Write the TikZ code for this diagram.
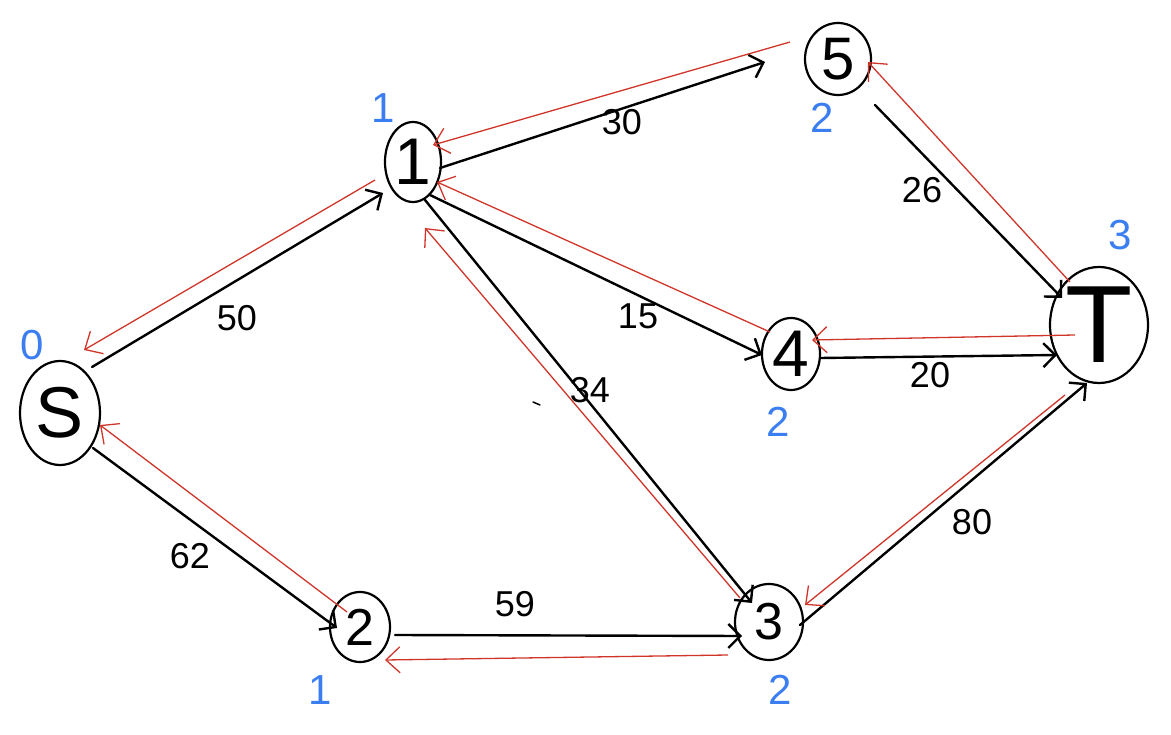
\documentclass[tikz,border=0pt]{standalone}
\usepackage{fontspec}
\setmainfont{Liberation Sans}
\usetikzlibrary{arrows.meta,shapes.geometric}
\definecolor{redc}{HTML}{D0352A}
\definecolor{bluec}{HTML}{3A7EF2}
\begin{document}
\begin{tikzpicture}[x=1pt,y=-1pt,
 vtx/.style={draw,ellipse,line width=2.2pt,inner sep=0pt},
 blk/.style={line width=2.4pt,line cap=round,-{Straight Barb[length=12pt,width=24pt]}},
 rd/.style={draw=redc,line width=1.3pt,-{Straight Barb[length=14pt,width=26pt]}},
 wlab/.style={font=\fontsize{36}{36}\selectfont},
 lvl/.style={text=bluec,font=\fontsize{42}{42}\selectfont}]
\useasboundingbox (0,0) rectangle (1171,735);
% vertices
\node[vtx,minimum width=80pt,minimum height=104pt,label={[font=\fontsize{72}{72}\selectfont]center:S}] (S) at (60,413) {};
\node[vtx,minimum width=56pt,minimum height=80pt,label={[font=\fontsize{66}{66}\selectfont]center:1}] (N1) at (413,162) {};
\node[vtx,minimum width=66pt,minimum height=72pt,label={[font=\fontsize{60}{60}\selectfont]center:5}] (N5) at (838,59) {};
\node[vtx,minimum width=58pt,minimum height=72pt,label={[font=\fontsize{66}{66}\selectfont]center:4}] (N4) at (791,354) {};
\node[vtx,minimum width=98pt,minimum height=116pt,label={[font=\fontsize{110}{110}\selectfont]center:T}] (T) at (1099,325) {};
\node[vtx,minimum width=60pt,minimum height=70pt,label={[font=\fontsize{52}{52}\selectfont]center:2}] (N2) at (360,627) {};
\node[vtx,minimum width=68pt,minimum height=76pt,label={[font=\fontsize{52}{52}\selectfont]center:3}] (N3) at (769,622) {};
% blue levels
\node[lvl] (l0) at (32,345) {0};
\node[lvl] (l1) at (383,108) {1};
\node[lvl] (l5) at (822,118) {2};
\node[lvl] (lT) at (1120,235) {3};
\node[lvl] (l4) at (778,422) {2};
\node[lvl] (l2) at (320,690) {1};
\node[lvl] (l3) at (780,690) {2};
% black edges
\draw[blk] ([shift={(32,-46)}]S.center) -- ([shift={(-30,31)}]N1.center);
\draw[blk] ([shift={(33,35)}]S.center) -- ([shift={(-23,1)}]N2.center);
\draw[blk] ([shift={(27,6)}]N1.center) -- ([shift={(-73,3)}]N5.center);
\draw[blk] ([shift={(37,46)}]N5.center) -- ([shift={(-37,-27)}]T.center);
\draw[blk] ([shift={(17,33)}]N1.center) -- ([shift={(-29,1)}]N4.center);
\draw[blk] ([shift={(12,38)}]N1.center) -- ([shift={(-17,-19)}]N3.center);
\draw[blk] ([shift={(29,4)}]N4.center) -- ([shift={(-42,30)}]T.center);
\draw[blk] ([shift={(35,8)}]N2.center) -- ([shift={(-27,14)}]N3.center);
\draw[blk] ([shift={(31,3)}]N3.center) -- ([shift={(-12,58)}]T.center);
% red residual edges
\draw[rd] ([shift={(-38,18)}]N1.center) -- ([shift={(24,-63)}]S.center);
\draw[rd] ([shift={(-13,-15)}]N2.center) -- ([shift={(40,12)}]S.center);
\draw[rd] ([shift={(-48,-17)}]N5.center) -- ([shift={(20,-17)}]N1.center);
\draw[rd] ([shift={(-29,-43)}]T.center) -- ([shift={(30,3)}]N5.center);
\draw[rd] ([shift={(-21,-22)}]N4.center) -- ([shift={(24,20)}]N1.center);
\draw[rd] ([shift={(-29,-24)}]N3.center) -- ([shift={(12,66)}]N1.center);
\draw[rd] ([shift={(-24,10)}]T.center) -- ([shift={(21,-14)}]N4.center);
\draw[rd] ([shift={(-41,33)}]N3.center) -- ([shift={(25,33)}]N2.center);
\draw[rd] ([shift={(-34,70)}]T.center) -- ([shift={(36,-17)}]N3.center);
% weights
\node[wlab] (w50) at (237,318) {50};
\node[wlab] (w62) at (190,556) {62};
\node[wlab] (w30) at (622,122) {30};
\node[wlab] (w26) at (922,190) {26};
\node[wlab] (w15) at (638,316) {15};
\node[wlab] (w34) at (590,390) {34};
\node[wlab] (w20) at (930,375) {20};
\node[wlab] (w59) at (515,604) {59};
\node[wlab] (w80) at (972,522) {80};
% stray mark
\draw[line width=1.5pt,line cap=round] (533,402) -- (540,405);
\end{tikzpicture}
\end{document}
